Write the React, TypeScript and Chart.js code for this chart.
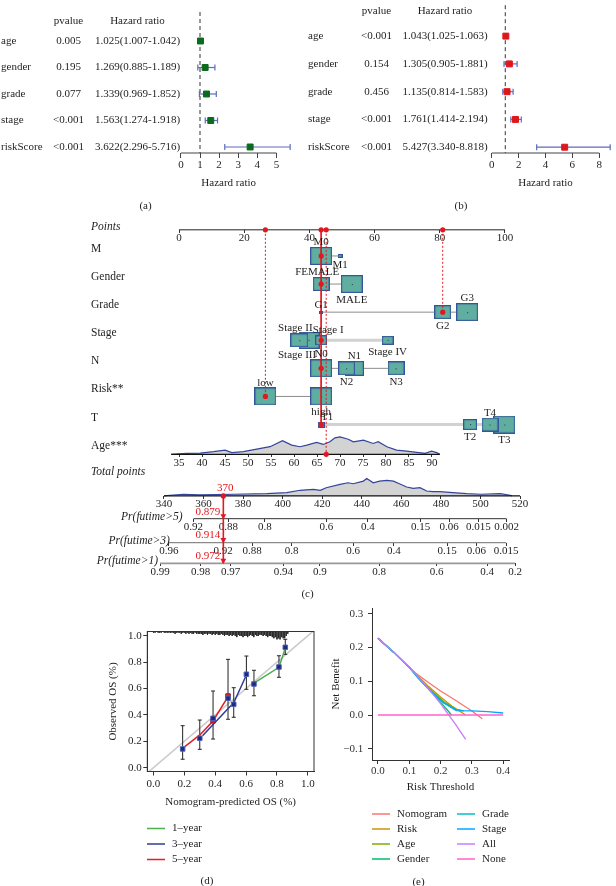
import React, { useEffect, useRef } from 'react';
import { Chart, registerables } from 'chart.js';

Chart.register(...registerables);

const SERIF = "'Liberation Serif', 'DejaVu Serif', serif";
const INK = '#1e1e1e';
const RED = '#e3171f';

/* ======================= (a) / (b) forest plots ======================= */
const forestVars = ['age', 'gender', 'grade', 'stage', 'riskScore'];

const pvalA = ['0.005', '0.195', '0.077', '<0.001', '<0.001'];
const hrLabelA = ['1.025(1.007-1.042)', '1.269(0.885-1.189)', '1.339(0.969-1.852)', '1.563(1.274-1.918)', '3.622(2.296-5.716)'];
const hrA = [1.025, 1.269, 1.339, 1.563, 3.622];
const lowA = [1.007, 0.885, 0.969, 1.274, 2.296];
const highA = [1.042, 1.78, 1.852, 1.918, 5.716];
const hrTicksA = [0, 1, 2, 3, 4, 5];

const pvalB = ['<0.001', '0.154', '0.456', '<0.001', '<0.001'];
const hrLabelB = ['1.043(1.025-1.063)', '1.305(0.905-1.881)', '1.135(0.814-1.583)', '1.761(1.414-2.194)', '5.427(3.340-8.818)'];
const hrB = [1.043, 1.305, 1.135, 1.761, 5.427];
const lowB = [1.025, 0.905, 0.814, 1.414, 3.34];
const highB = [1.063, 1.881, 1.583, 2.194, 8.818];
const hrTicksB = [0, 2, 4, 6, 8];

/* ======================= (c) nomogram ======================= */
const pointsTicks = [0, 20, 40, 60, 80, 100];

const mLevels = ['M0', 'M1'];
const mPts = [43.6, 49.4];
const mFreq = [0.5, 0.026];

const genderLevels = ['FEMALE', 'MALE'];
const genderPts = [43.6, 53.0];
const genderFreq = [0.3, 0.5];

const gradeLevels = ['G1', 'G2', 'G3'];
const gradePts = [43.6, 80.9, 88.4];
const gradeFreq = [0.017, 0.3, 0.5];

const stageLevels = ['Stage I', 'Stage II', 'Stage III', 'Stage IV'];
const stagePts = [43.6, 36.9, 39.9, 64.0];
const stageFreq = [0.16, 0.34, 0.45, 0.14];

const nLevels = ['N0', 'N1', 'N2', 'N3'];
const nPts = [43.6, 53.8, 51.4, 66.6];
const nFreq = [0.5, 0.37, 0.31, 0.3];

const riskLevels = ['low', 'high'];
const riskPts = [26.5, 43.6];
const riskFreq = [0.5, 0.5];

const tLevels = ['T1', 'T2', 'T3', 'T4'];
const tPts = [43.6, 89.3, 99.8, 95.4];
const tFreq = [0.05, 0.21, 0.52, 0.31];

const obsLevels = ['M0', 'FEMALE', 'G2', 'Stage I', 'N0', 'low', 'T1'];
const obsAge = 67;
const obsTotal = 370;
const obsPrLabels = ['0.879', '0.914', '0.972'];

const ageTicks = [35, 40, 45, 50, 55, 60, 65, 70, 75, 80, 85, 90];
const ageDensAge = [33.3, 36.7, 39.6, 42.5, 45, 46.5, 49, 51.9, 54.8, 57.5, 59.5, 61.3, 62.8, 64.9, 66.4, 67.8, 68.9, 70, 71.8, 72.9, 75.1, 77.2, 78.3, 80.2, 82.3, 84.5, 86.7, 88.5, 89.9, 91, 91.7];
const ageDens = [0, 1, 1.3, 2.7, 4.3, 1.7, 2.7, 5.3, 7.7, 13.7, 9.3, 7.7, 9.3, 12, 10, 12.7, 16.7, 17.7, 15.3, 12.7, 14.3, 11, 12.7, 7.7, 4.3, 3.3, 2, 1, 3.3, 1.7, 0];

const totalTicks = [340, 360, 380, 400, 420, 440, 460, 480, 500, 520];
const totDensPts = [340, 343, 349.8, 358, 375, 392, 402, 408.8, 415.5, 419, 422, 429, 433, 435.7, 440.8, 442.5, 445.8, 449, 452.6, 456, 459, 462.7, 466, 469.4, 472.8, 476, 479.5, 486, 493, 500, 510, 515, 516];
const totDens = [0, 0.7, 1.7, 1, 1.7, 2.3, 3.3, 5.7, 6.7, 5.7, 8.3, 11.7, 13.3, 12.3, 15, 17.7, 13.3, 15, 15.7, 15, 12.3, 9, 7.7, 8.3, 5, 4.3, 4.3, 3.3, 2.3, 1.7, 2.3, 0.7, 0];

const pr5Labels = ['0.92', '0.88', '0.8', '0.6', '0.4', '0.15', '0.06', '0.015', '0.002'];
const pr5At = [354.9, 372.5, 391.0, 422.1, 443.1, 469.8, 484.1, 498.9, 513.2];
const pr3Labels = ['0.96', '0.92', '0.88', '0.8', '0.6', '0.4', '0.15', '0.06', '0.015'];
const pr3At = [342.5, 369.9, 384.5, 404.5, 435.6, 456.2, 483.1, 497.9, 513.0];
const pr1Labels = ['0.99', '0.98', '0.97', '0.94', '0.9', '0.8', '0.6', '0.4', '0.2'];
const pr1At = [338.0, 358.5, 373.7, 400.3, 418.8, 448.8, 477.8, 503.4, 517.5];

/* ======================= (d) calibration ======================= */
const calTicks = [0, 0.2, 0.4, 0.6, 0.8, 1.0];
const cal1X = [0.656, 0.813, 0.854];
const cal1Y = [0.644, 0.761, 0.905];
const cal3X = [0.318, 0.49, 0.52, 0.602];
const cal3Y = [0.242, 0.456, 0.492, 0.702];
const cal5X = [0.203, 0.3, 0.386, 0.483];
const cal5Y = [0.159, 0.248, 0.354, 0.538];
const calPtX = [0.189, 0.3, 0.386, 0.483, 0.52, 0.602, 0.651, 0.813, 0.854];
const calPtY = [0.142, 0.223, 0.374, 0.526, 0.48, 0.708, 0.634, 0.763, 0.912];
const calLo = [0.064, 0.139, 0.217, 0.367, 0.382, 0.594, 0.545, 0.685, 0.859];
const calHi = [0.318, 0.361, 0.581, 0.821, 0.606, 0.846, 0.738, 0.848, 0.973];
const cal5PtX = [0.386, 0.483];
const cal5PtY = [0.356, 0.543];
const rugCounts = [
  1, 1, 0, 1, 1, 1, 0, 1, 1, 1,
  1, 1, 1, 1, 2, 1, 1, 1, 2, 1,
  1, 2, 1, 2, 1, 2, 2, 1, 2, 2,
  2, 2, 3, 2, 2, 3, 2, 2, 3, 2,
  3, 2, 3, 3, 2, 3, 4, 3, 3, 4,
  3, 4, 3, 4, 5, 3, 4, 4, 5, 4,
  4, 5, 4, 3, 4, 5, 3, 4, 4, 3,
  3, 4, 3, 4, 5, 4, 4, 5, 6, 5,
  7, 6, 7, 5, 6, 6, 4, 2,
];
const calLegend = ['1\u2013year', '3\u2013year', '5\u2013year'];

/* ======================= (e) decision curves ======================= */
const dcaXTicks = [0, 0.1, 0.2, 0.3, 0.4];
const dcaYTicks = [-0.1, 0, 0.1, 0.2, 0.3];
const nomogramX = [0, 0.05, 0.1, 0.12, 0.16, 0.2, 0.25, 0.3, 0.333];
const nomogramY = [0.227, 0.186, 0.141, 0.124, 0.097, 0.071, 0.042, 0.012, -0.011];
const riskX = [0, 0.05, 0.1, 0.13, 0.16, 0.2, 0.24, 0.28];
const riskY = [0.227, 0.186, 0.141, 0.113, 0.086, 0.053, 0.024, 0.0];
const ageX = [0, 0.05, 0.1, 0.13, 0.17, 0.21, 0.25, 0.275];
const ageY = [0.227, 0.186, 0.141, 0.11, 0.073, 0.04, 0.016, 0.012];
const genderX = [0, 0.05, 0.1, 0.13, 0.17, 0.2, 0.235];
const genderY = [0.227, 0.186, 0.141, 0.108, 0.068, 0.038, 0.0];
const gradeX = [0, 0.05, 0.1, 0.13, 0.17, 0.21, 0.25, 0.27];
const gradeY = [0.227, 0.186, 0.141, 0.109, 0.07, 0.036, 0.016, 0.013];
const stageX = [0, 0.05, 0.1, 0.13, 0.17, 0.21, 0.25, 0.3, 0.35, 0.4];
const stageY = [0.227, 0.186, 0.141, 0.108, 0.07, 0.036, 0.013, 0.012, 0.01, 0.006];
const allX = [0, 0.05, 0.1, 0.15, 0.2, 0.25, 0.28];
const allY = [0.227, 0.186, 0.141, 0.091, 0.034, -0.031, -0.072];
const noneX = [0, 0.4];
const noneY = [0, 0];

/* ======================= helpers ======================= */
const baseOptions = {
  responsive: false,
  animation: false,
  events: [],
  plugins: { legend: { display: false }, tooltip: { enabled: false } },
};

function xy(xs: number[], ys: number[]) {
  return xs.map((x, i) => ({ x, y: ys[i] }));
}

function lineDs(xAxisID: string, pts: number[][], color: string, width: number, order: number, dash: number[] = []) {
  return {
    type: 'line', xAxisID, yAxisID: 'y',
    data: pts.map(([x, y]) => ({ x, y })),
    borderColor: color, borderWidth: width, borderDash: dash,
    pointRadius: 0, fill: false, clip: false, order,
  };
}

/* ---------- forest ---------- */
type ForestLayout = { w: number; h: number; zeroX: number; unitPx: number; top: number; axisY: number; row1Y: number; rowGap: number; labelX: number; pX: number; hrX: number; headY: number; titleY: number };
const LAYOUT_A: ForestLayout = { w: 300, h: 200, zeroX: 182, unitPx: 19.8, top: 12, axisY: 153, row1Y: 41, rowGap: 26.5, labelX: 1, pX: 68.5, hrX: 137.5, headY: 21, titleY: 183 };
const LAYOUT_B: ForestLayout = { w: 316, h: 200, zeroX: 193, unitPx: 13.875, top: 0, axisY: 153, row1Y: 32, rowGap: 28.75, labelX: 8, pX: 76.5, hrX: 145, headY: 11, titleY: 183 };

function forestConfig(L: ForestLayout, pval: string[], hrLabel: string[], hr: number[], low: number[], high: number[], ticks: number[], color: string) {
  const yMin = 1 - (L.row1Y - L.top) / L.rowGap;
  const yMax = 1 + (L.axisY - L.row1Y) / L.rowGap;
  const xMin = -L.zeroX / L.unitPx;
  const xMax = (L.w - L.zeroX) / L.unitPx;
  const AXIS_H = 40;
  const ciColor = '#5d6dbd';
  const textPlugin = {
    id: 'forestText',
    afterDraw(chart: any) {
      const { ctx } = chart;
      const ys = chart.scales.y;
      const xs = chart.scales.x;
      ctx.save();
      ctx.fillStyle = INK;
      ctx.font = `11px ${SERIF}`;
      ctx.textBaseline = 'middle';
      ctx.textAlign = 'center';
      ctx.fillText('pvalue', L.pX, L.headY);
      ctx.fillText('Hazard ratio', L.hrX, L.headY);
      forestVars.forEach((v, i) => {
        const py = ys.getPixelForValue(i + 1);
        ctx.textAlign = 'left';
        ctx.fillText(v, L.labelX, py);
        ctx.textAlign = 'center';
        ctx.fillText(pval[i], L.pX, py);
        ctx.fillText(hrLabel[i], L.hrX, py);
      });
      const cx = (xs.getPixelForValue(ticks[0]) + xs.getPixelForValue(ticks[ticks.length - 1])) / 2;
      ctx.fillText('Hazard ratio', cx, L.titleY);
      ctx.restore();
    },
  };
  return {
    type: 'line',
    data: {
      datasets: [
        { type: 'line', data: [{ x: 1, y: yMin }, { x: 1, y: yMax }], borderColor: '#333', borderWidth: 1, borderDash: [4, 3], pointRadius: 0, clip: false, order: 9 },
        { type: 'line', data: [{ x: ticks[0], y: yMax }, { x: ticks[ticks.length - 1], y: yMax }], borderColor: '#444', borderWidth: 1, pointRadius: 0, clip: false, order: 9 },
        ...forestVars.map((_, i) => ({
          type: 'line', data: [{ x: low[i], y: i + 1 }, { x: high[i], y: i + 1 }],
          borderColor: ciColor, borderWidth: 1.2,
          pointStyle: 'line', pointRotation: 90, pointRadius: 3,
          pointBorderColor: ciColor, pointBorderWidth: 1.2, clip: false, order: 5,
        })),
        {
          type: 'scatter', data: hr.map((v, i) => ({ x: v, y: i + 1 })),
          pointStyle: 'rect', pointRadius: 4.2,
          pointBackgroundColor: color, pointBorderColor: color, pointBorderWidth: 1, clip: false, order: 1,
        },
      ],
    },
    options: {
      ...baseOptions,
      layout: { padding: { left: 0, right: 0, top: L.top, bottom: L.h - L.axisY - AXIS_H } },
      scales: {
        x: {
          type: 'linear', min: xMin, max: xMax,
          afterBuildTicks: (s: any) => { s.ticks = ticks.map((v) => ({ value: v })); },
          afterFit: (s: any) => { s.height = AXIS_H; },
          border: { display: false },
          grid: { drawOnChartArea: false, tickLength: 5, color: '#444' },
          ticks: { autoSkip: false, maxRotation: 0, padding: 2, color: INK, font: { family: SERIF, size: 11, lineHeight: 1 } },
        },
        y: { type: 'linear', display: false, reverse: true, min: yMin, max: yMax },
      },
    },
    plugins: [textPlugin],
  };
}

/* ---------- nomogram ---------- */
const NOMO = { top: 205, w: 616, h: 395, slot0: 19, slotPx: 28.4, yMin: -0.6, yMax: 12.8, areaL: 140, areaR: 530, labelX: 91 };
const PTS_CAL = { at: 0, x: 179, px: 3.26 };
const AGE_CAL = { at: 35, x: 179, px: 4.6 };
const TOT_CAL = { at: 340, x: 164, px: 1.978 };
const SLOT = { points: 0.07, age: 8.06, total: 9.54, pr5: 10.35, pr3: 11.2, pr1: 11.94 };
const BOX_K = 31;
const LABEL_DX: Record<string, number> = { 'Stage I': 7, 'Stage II': -4, 'Stage III': -12, T1: 6, FEMALE: -4 };
const PR_TITLE_DX = [-11, 1, -2];

const nomoVars = [
  { label: 'M', levels: mLevels, pts: mPts, freq: mFreq, side: ['above', 'below'], light: false },
  { label: 'Gender', levels: genderLevels, pts: genderPts, freq: genderFreq, side: ['above', 'below'], light: false },
  { label: 'Grade', levels: gradeLevels, pts: gradePts, freq: gradeFreq, side: ['above', 'below', 'above'], light: false },
  { label: 'Stage', levels: stageLevels, pts: stagePts, freq: stageFreq, side: ['above', 'above', 'below', 'below'], light: true },
  { label: 'N', levels: nLevels, pts: nPts, freq: nFreq, side: ['above', 'above', 'below', 'below'], light: false },
  { label: 'Risk**', levels: riskLevels, pts: riskPts, freq: riskFreq, side: ['above', 'below'], light: false },
  { label: 'T', levels: tLevels, pts: tPts, freq: tFreq, side: ['above', 'below', 'below', 'above'], light: true },
];
const prRows = [
  { title: 'Pr(futime>5)', at: pr5At, labels: pr5Labels, slot: SLOT.pr5, id: 'xP5', color: '#333', width: 1 },
  { title: 'Pr(futime>3)', at: pr3At, labels: pr3Labels, slot: SLOT.pr3, id: 'xP3', color: '#8a8a8a', width: 1.3 },
  { title: 'Pr(futime>1)', at: pr1At, labels: pr1Labels, slot: SLOT.pr1, id: 'xP1', color: '#999', width: 1.6 },
];

function boxSize(f: number) {
  const w = Math.max(3, BOX_K * Math.sqrt(f));
  return { w, h: Math.max(3, w * 0.8) };
}
const boxCache = new Map<string, HTMLCanvasElement>();
function boxImage(f: number) {
  const { w, h } = boxSize(f);
  const W = Math.round(w);
  const H = Math.round(h);
  const key = `${W}x${H}`;
  const hit = boxCache.get(key);
  if (hit) return hit;
  const c = document.createElement('canvas');
  c.width = W;
  c.height = H;
  const g = c.getContext('2d')!;
  g.fillStyle = '#60ae9f';
  g.fillRect(0, 0, W, H);
  g.strokeStyle = '#34549c';
  g.lineWidth = 1.2;
  g.strokeRect(0.6, 0.6, W - 1.2, H - 1.2);
  if (W > 8) {
    g.fillStyle = '#1e3350';
    g.fillRect(Math.floor(W / 2), Math.floor(H / 2), 1, 1);
  }
  boxCache.set(key, c);
  return c;
}

function calRange(cal: { at: number; x: number; px: number }) {
  return [cal.at + (NOMO.areaL - cal.x) / cal.px, cal.at + (NOMO.areaR - cal.x) / cal.px];
}

function hAxis(range: number[], slot: number, ticks: number[], labels?: string[]) {
  return {
    type: 'linear', axis: 'x', min: range[0], max: range[1], position: { y: slot },
    afterBuildTicks: (s: any) => { s.ticks = ticks.map((v) => ({ value: v })); },
    afterFit: (s: any) => { s.height = 0; },
    border: { display: false },
    grid: { drawOnChartArea: false, drawTicks: true, tickLength: 3, color: '#333', lineWidth: 1 },
    ticks: {
      autoSkip: false, maxRotation: 0, padding: 0, color: INK,
      font: { family: SERIF, size: 11, lineHeight: 1 },
      callback: (v: number, i: number) => (labels ? labels[i] : String(v)),
    },
  };
}

function nomogramConfig() {
  const ds: any[] = [];
  const last = (a: number[]) => a[a.length - 1];
  ds.push(lineDs('x', [[pointsTicks[0], SLOT.points], [last(pointsTicks), SLOT.points]], '#222', 1, 8));
  nomoVars.forEach((v, i) => {
    const lo = Math.min(...v.pts);
    const hi = Math.max(...v.pts);
    ds.push(lineDs('x', [[lo, i + 1], [hi, i + 1]], v.light ? '#d2d2d2' : '#8c8c8c', v.light ? 3 : 1, 9));
    const idx = v.levels.map((_, j) => j).sort((a, b) => v.freq[b] - v.freq[a]);
    ds.push({
      type: 'scatter', xAxisID: 'x', yAxisID: 'y',
      data: idx.map((j) => ({ x: v.pts[j], y: i + 1, f: v.freq[j] })),
      pointStyle: (c: any) => (c.raw ? boxImage(c.raw.f) : 'rect'),
      pointRadius: 5, clip: false, order: 6,
    });
  });
  const obsPts = nomoVars.map((v, i) => v.pts[v.levels.indexOf(obsLevels[i])]);
  const groups = new Map<number, number[]>();
  obsPts.forEach((p, i) => { groups.set(p, [...(groups.get(p) || []), i + 1]); });
  groups.forEach((rows, p) => {
    ds.push(lineDs('x', [[p, SLOT.points], [p, Math.max(...rows)]], RED, 1, 3, rows.length > 1 ? [] : [2, 2]));
  });
  ds.push(lineDs('xAge', [[obsAge, SLOT.points], [obsAge, SLOT.age]], RED, 1, 3, [2, 2]));
  ds.push({
    type: 'scatter', xAxisID: 'x', yAxisID: 'y',
    data: [...obsPts.map((p, i) => ({ x: p, y: i + 1 })), ...[...groups.keys()].map((p) => ({ x: p, y: SLOT.points }))],
    pointRadius: 2.6, pointBackgroundColor: RED, pointBorderWidth: 0, clip: false, order: 1,
  });
  ds.push({
    type: 'scatter', xAxisID: 'xAge', yAxisID: 'y',
    data: [{ x: obsAge, y: SLOT.age }, { x: obsAge, y: SLOT.points }],
    pointRadius: 2.6, pointBackgroundColor: RED, pointBorderWidth: 0, clip: false, order: 1,
  });
  ds.push({
    type: 'line', xAxisID: 'xAge', yAxisID: 'y',
    data: ageDensAge.map((a, i) => ({ x: a, y: SLOT.age - ageDens[i] / NOMO.slotPx })),
    borderColor: '#34449a', borderWidth: 1.2, backgroundColor: '#d3d3d3',
    fill: { value: SLOT.age }, pointRadius: 0, clip: false, order: 10,
  });
  ds.push(lineDs('xAge', [[ageDensAge[0], SLOT.age], [last(ageDensAge), SLOT.age]], '#111', 1.2, 7));
  ds.push({
    type: 'line', xAxisID: 'xTot', yAxisID: 'y',
    data: totDensPts.map((a, i) => ({ x: a, y: SLOT.total - totDens[i] / NOMO.slotPx })),
    borderColor: '#34449a', borderWidth: 1.2, backgroundColor: '#d3d3d3',
    fill: { value: SLOT.total }, pointRadius: 0, clip: false, order: 10,
  });
  ds.push(lineDs('xTot', [[totalTicks[0], SLOT.total], [last(totalTicks), SLOT.total]], '#111', 1.2, 7));
  prRows.forEach((r) => {
    ds.push(lineDs('xTot', [[r.at[0], r.slot], [last(r.at), r.slot]], r.color, r.width, 7));
  });
  ds.push(lineDs('xTot', [[obsTotal, SLOT.total], [obsTotal, SLOT.pr1]], RED, 1.6, 2));
  ds.push({
    type: 'scatter', xAxisID: 'xTot', yAxisID: 'y',
    data: [{ x: obsTotal, y: SLOT.total }],
    pointRadius: 2.6, pointBackgroundColor: RED, pointBorderWidth: 0, clip: false, order: 1,
  });
  ds.push({
    type: 'scatter', xAxisID: 'xTot', yAxisID: 'y',
    data: prRows.map((r) => ({ x: obsTotal, y: r.slot - 0.1 })),
    pointStyle: 'triangle', pointRotation: 180, pointRadius: 3.4,
    pointBackgroundColor: RED, pointBorderColor: RED, pointBorderWidth: 0, clip: false, order: 1,
  });

  const textPlugin = {
    id: 'nomoText',
    afterDraw(chart: any) {
      const { ctx, scales } = chart;
      const Y = (s: number) => scales.y.getPixelForValue(s);
      const xp = scales.x;
      const xt = scales.xTot;
      ctx.save();
      ctx.fillStyle = INK;
      ctx.textBaseline = 'middle';
      ctx.textAlign = 'left';
      ctx.font = `italic 11.5px ${SERIF}`;
      ctx.fillText('Points', NOMO.labelX, Y(SLOT.points) - 3);
      ctx.fillText('Total points', NOMO.labelX, Y(SLOT.total) - 24);
      ctx.font = `11.5px ${SERIF}`;
      nomoVars.forEach((v, i) => ctx.fillText(v.label, NOMO.labelX, Y(i + 1) - 7));
      ctx.fillText('Age***', NOMO.labelX, Y(SLOT.age) - 8);
      ctx.font = `italic 11.5px ${SERIF}`;
      ctx.textAlign = 'right';
      prRows.forEach((r, k) => ctx.fillText(r.title, xt.getPixelForValue(r.at[0]) + PR_TITLE_DX[k], Y(r.slot) - 2));
      ctx.font = `11px ${SERIF}`;
      ctx.textAlign = 'center';
      nomoVars.forEach((v, i) => v.levels.forEach((lv, j) => {
        const { h } = boxSize(v.freq[j]);
        const px = xp.getPixelForValue(v.pts[j]) + (LABEL_DX[lv] || 0);
        const py = v.side[j] === 'above' ? Y(i + 1) - h / 2 - 5 : Y(i + 1) + h / 2 + 7;
        ctx.fillText(lv, px, py);
      }));
      ctx.fillStyle = RED;
      const ox = xt.getPixelForValue(obsTotal);
      ctx.fillText(String(obsTotal), ox + 2, Y(SLOT.total) - 8);
      ctx.textAlign = 'right';
      prRows.forEach((r, k) => ctx.fillText(obsPrLabels[k], ox - 3, Y(r.slot) - 7));
      ctx.restore();
    },
  };

  const scales: any = {
    y: { type: 'linear', display: false, reverse: true, min: NOMO.yMin, max: NOMO.yMax },
    x: hAxis(calRange(PTS_CAL), SLOT.points, pointsTicks),
    xAge: hAxis(calRange(AGE_CAL), SLOT.age, ageTicks),
    xTot: hAxis(calRange(TOT_CAL), SLOT.total, totalTicks),
  };
  prRows.forEach((r) => { scales[r.id] = hAxis(calRange(TOT_CAL), r.slot, r.at, r.labels); });

  return {
    type: 'line',
    data: { datasets: ds },
    options: {
      ...baseOptions,
      layout: {
        padding: {
          left: NOMO.areaL,
          right: NOMO.w - NOMO.areaR,
          top: NOMO.slot0 + NOMO.yMin * NOMO.slotPx,
          bottom: NOMO.h - (NOMO.slot0 + NOMO.yMax * NOMO.slotPx),
        },
      },
      scales,
    },
    plugins: [textPlugin],
  };
}

/* ---------- calibration ---------- */
const CAL = { w: 250, h: 286, areaL: 67.3, areaR: 234, areaT: 31.5, areaB: 171.5, xH: 44 };
const calColors = ['#4cae4c', '#2f3c96', '#e41f22'];

function calibrationConfig() {
  const yMax = 1.032;
  const rugUnit = 0.0085;
  const rug: any[] = [];
  rugCounts.forEach((c, i) => {
    if (c <= 0) return;
    const x = i * 0.01;
    rug.push({ x, y: yMax }, { x, y: yMax - c * rugUnit }, { x, y: NaN });
  });
  const bars: any[] = [];
  calPtX.forEach((x, i) => { bars.push({ x, y: calLo[i] }, { x, y: calHi[i] }, { x, y: NaN }); });

  const legendPlugin = {
    id: 'calLegend',
    afterDraw(chart: any) {
      const { ctx, chartArea: a } = chart;
      ctx.save();
      ctx.strokeStyle = '#333';
      ctx.lineWidth = 1;
      ctx.strokeRect(a.left, a.top, a.right - a.left, a.bottom - a.top);
      ctx.font = `11px ${SERIF}`;
      ctx.textBaseline = 'middle';
      ctx.textAlign = 'left';
      calLegend.forEach((t, i) => {
        const y = 228.5 + i * 15.5;
        ctx.strokeStyle = calColors[i];
        ctx.lineWidth = 1.5;
        ctx.beginPath();
        ctx.moveTo(67, y);
        ctx.lineTo(85, y);
        ctx.stroke();
        ctx.fillStyle = INK;
        ctx.fillText(t, 92, y);
      });
      ctx.restore();
    },
  };
  const tickFont = { family: SERIF, size: 11, lineHeight: 1 };
  return {
    type: 'line',
    data: {
      datasets: [
        { type: 'line', data: [{ x: -0.04, y: -0.04 }, { x: 1.04, y: 1.04 }], borderColor: '#c9c9c9', borderWidth: 1.5, pointRadius: 0, order: 20 },
        { type: 'line', data: rug, borderColor: '#2a2a2a', borderWidth: 1, pointRadius: 0, spanGaps: false, order: 19 },
        { type: 'line', data: bars, borderColor: '#222', borderWidth: 1, pointStyle: 'line', pointRadius: 2, pointBorderColor: '#222', pointBorderWidth: 1, spanGaps: false, order: 15 },
        { type: 'line', data: xy(cal1X, cal1Y), borderColor: calColors[0], borderWidth: 1.5, pointRadius: 0, order: 10 },
        { type: 'line', data: xy(cal3X, cal3Y), borderColor: calColors[1], borderWidth: 1.5, pointRadius: 0, order: 10 },
        { type: 'line', data: xy(cal5X, cal5Y), borderColor: calColors[2], borderWidth: 1.5, pointRadius: 0, order: 10 },
        { type: 'scatter', data: xy(cal5PtX, cal5PtY), pointStyle: 'rect', pointRadius: 3.2, pointBackgroundColor: '#e0242a', pointBorderColor: '#9b1a30', pointBorderWidth: 1, order: 3 },
        { type: 'scatter', data: xy(calPtX, calPtY), pointStyle: 'rect', pointRadius: 3.2, pointBackgroundColor: '#1c2a78', pointBorderColor: '#4d62b6', pointBorderWidth: 1, order: 2 },
      ],
    },
    options: {
      ...baseOptions,
      layout: { padding: { left: 0, right: CAL.w - CAL.areaR, top: CAL.areaT, bottom: CAL.h - CAL.areaB - CAL.xH } },
      scales: {
        x: {
          type: 'linear', min: -0.04, max: 1.04,
          afterBuildTicks: (s: any) => { s.ticks = calTicks.map((v) => ({ value: v })); },
          afterFit: (s: any) => { s.height = CAL.xH; },
          border: { display: true, color: '#333' },
          grid: { drawOnChartArea: false, tickLength: 4, color: '#333' },
          ticks: { autoSkip: false, maxRotation: 0, padding: 3, color: INK, font: tickFont, callback: (v: number) => v.toFixed(1) },
          title: { display: true, text: 'Nomogram-predicted OS (%)', color: INK, font: { family: SERIF, size: 11, lineHeight: 1 }, padding: { top: 0, bottom: 8 } },
        },
        y: {
          type: 'linear', min: -0.029, max: yMax,
          afterBuildTicks: (s: any) => { s.ticks = calTicks.map((v) => ({ value: v })); },
          afterFit: (s: any) => { s.width = CAL.areaL; },
          border: { display: true, color: '#333' },
          grid: { drawOnChartArea: false, tickLength: 4, color: '#333' },
          ticks: { autoSkip: false, padding: 1.5, color: INK, font: tickFont, callback: (v: number) => v.toFixed(1) },
          title: { display: true, text: 'Observed OS (%)', color: INK, font: { family: SERIF, size: 11, lineHeight: 1 }, padding: { top: 27.5, bottom: 0 } },
        },
      },
    },
    plugins: [legendPlugin],
  };
}

/* ---------- decision curves ---------- */
const DCA = { w: 296, h: 291, areaR: 189, areaT: 13, areaB: 165, yW: 52, xH: 40 };
const dcaModels = [
  { name: 'Nomogram', color: '#F8766D', x: nomogramX, y: nomogramY },
  { name: 'Risk', color: '#CD9600', x: riskX, y: riskY },
  { name: 'Age', color: '#7CAE00', x: ageX, y: ageY },
  { name: 'Gender', color: '#00BE67', x: genderX, y: genderY },
  { name: 'Grade', color: '#00BFC4', x: gradeX, y: gradeY },
  { name: 'Stage', color: '#00A9FF', x: stageX, y: stageY },
  { name: 'All', color: '#C77CFF', x: allX, y: allY },
  { name: 'None', color: '#FF61CC', x: noneX, y: noneY },
];

function dcaConfig() {
  const legendPlugin = {
    id: 'dcaLegend',
    afterDraw(chart: any) {
      const { ctx } = chart;
      ctx.save();
      ctx.font = `11px ${SERIF}`;
      ctx.textBaseline = 'middle';
      ctx.textAlign = 'left';
      dcaModels.forEach((m, i) => {
        const col = i < 4 ? 0 : 1;
        const row = i % 4;
        const lx = col === 0 ? 52 : 137;
        const y = 219 + row * 15;
        ctx.strokeStyle = m.color;
        ctx.lineWidth = 1.5;
        ctx.beginPath();
        ctx.moveTo(lx, y);
        ctx.lineTo(lx + 18, y);
        ctx.stroke();
        ctx.fillStyle = INK;
        ctx.fillText(m.name, lx + 25, y);
      });
      ctx.restore();
    },
  };
  const tickFont = { family: SERIF, size: 11, lineHeight: 1 };
  return {
    type: 'line',
    data: {
      datasets: dcaModels.map((m, i) => ({
        type: 'line', data: xy(m.x, m.y), borderColor: m.color, borderWidth: 1.3,
        pointRadius: 0, clip: false, order: dcaModels.length - i,
      })),
    },
    options: {
      ...baseOptions,
      layout: { padding: { left: 0, right: DCA.w - DCA.areaR, top: DCA.areaT, bottom: DCA.h - DCA.areaB - DCA.xH } },
      scales: {
        x: {
          type: 'linear', min: -0.019, max: 0.4185,
          afterBuildTicks: (s: any) => { s.ticks = dcaXTicks.map((v) => ({ value: v })); },
          afterFit: (s: any) => { s.height = DCA.xH; },
          border: { display: true, color: '#333' },
          grid: { drawOnChartArea: false, tickLength: 4, color: '#333' },
          ticks: { autoSkip: false, maxRotation: 0, padding: 1.3, color: '#333', font: tickFont, callback: (v: number) => v.toFixed(1) },
          title: { display: true, text: 'Risk Threshold', color: INK, font: { family: SERIF, size: 11, lineHeight: 1 }, padding: { top: 0, bottom: 7.5 } },
        },
        y: {
          type: 'linear', min: -0.1331, max: 0.3166,
          afterBuildTicks: (s: any) => { s.ticks = dcaYTicks.map((v) => ({ value: v })); },
          afterFit: (s: any) => { s.width = DCA.yW; },
          border: { display: true, color: '#333' },
          grid: { drawOnChartArea: false, tickLength: 4, color: '#333' },
          ticks: { autoSkip: false, padding: 4.7, color: '#333', font: tickFont, callback: (v: number) => (v < 0 ? '\u2212' + Math.abs(v).toFixed(1) : v.toFixed(1)) },
          title: { display: true, text: 'Net Benefit', color: INK, font: { family: SERIF, size: 11, lineHeight: 1 }, padding: { top: 10.3, bottom: 0 } },
        },
      },
    },
    plugins: [legendPlugin],
  };
}

/* ======================= components ======================= */
function ChartBox({ left, top, width, height, make }: { left: number; top: number; width: number; height: number; make: () => any }) {
  const ref = useRef<HTMLCanvasElement>(null);
  useEffect(() => {
    const chart = new Chart(ref.current as HTMLCanvasElement, make());
    return () => chart.destroy();
  }, []);
  return (
    <div style={{ position: 'absolute', left, top, width, height }}>
      <canvas ref={ref} width={width} height={height} style={{ width, height, display: 'block' }} />
    </div>
  );
}

const panelLabels = [
  { t: '(a)', x: 145.5, y: 205 },
  { t: '(b)', x: 461, y: 205 },
  { t: '(c)', x: 307.5, y: 593 },
  { t: '(d)', x: 207, y: 880 },
  { t: '(e)', x: 418.5, y: 881 },
];

export default function App() {
  return (
    <div style={{ position: 'fixed', left: 0, top: 0, width: 616, height: 886, background: '#fff', overflow: 'hidden' }}>
      <ChartBox left={0} top={0} width={300} height={200} make={() => forestConfig(LAYOUT_A, pvalA, hrLabelA, hrA, lowA, highA, hrTicksA, '#0c6a1e')} />
      <ChartBox left={300} top={0} width={316} height={200} make={() => forestConfig(LAYOUT_B, pvalB, hrLabelB, hrB, lowB, highB, hrTicksB, '#e0161b')} />
      <ChartBox left={0} top={NOMO.top} width={NOMO.w} height={NOMO.h} make={nomogramConfig} />
      <ChartBox left={80} top={600} width={CAL.w} height={CAL.h} make={calibrationConfig} />
      <ChartBox left={320} top={595} width={DCA.w} height={DCA.h} make={dcaConfig} />
      {panelLabels.map((p) => (
        <div key={p.t} style={{ position: 'absolute', left: p.x, top: p.y, transform: 'translate(-50%, -50%)', font: `11px ${SERIF}`, color: INK, whiteSpace: 'nowrap' }}>{p.t}</div>
      ))}
    </div>
  );
}
